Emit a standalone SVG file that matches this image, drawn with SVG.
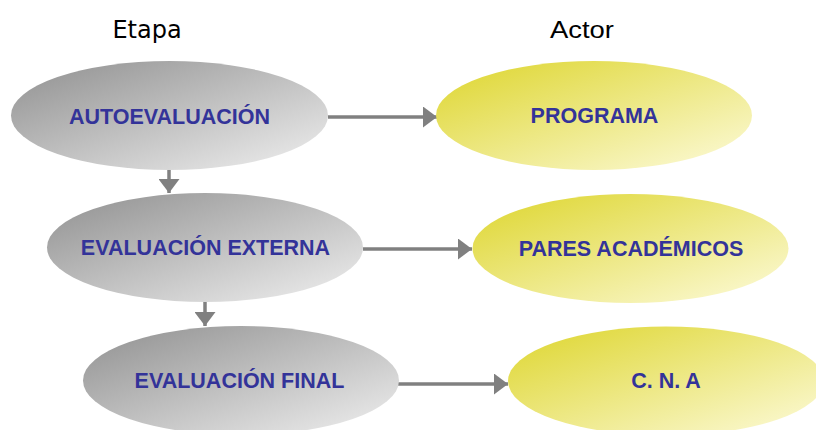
<svg xmlns="http://www.w3.org/2000/svg" width="816" height="430" viewBox="0 0 816 430">
  <style>
    .hdr { font-size: 24px; fill: #000000; }
    .lbl { font-family: "Liberation Sans", Arial, sans-serif; font-weight: bold; font-size: 21.5px; fill: #333399; text-anchor: middle; }
    .etapa { fill: url(#gGray); }
    .actor { fill: url(#gYellow); }
    .conn { stroke: #808080; stroke-width: 3.5; fill: none; marker-end: url(#arrow); }
  </style>
  <defs>
    <linearGradient id="gGray" x1="0" y1="0" x2="1" y2="1">
      <stop offset="0" stop-color="#8f8f8f"/>
      <stop offset="1" stop-color="#f0f0f0"/>
    </linearGradient>
    <linearGradient id="gYellow" x1="0" y1="0" x2="1" y2="1">
      <stop offset="0" stop-color="#ddd52c"/>
      <stop offset="1" stop-color="#fdfbdc"/>
    </linearGradient>
    <marker id="arrow" markerUnits="userSpaceOnUse" markerWidth="14" markerHeight="21" refX="14" refY="10.5" orient="auto">
      <path d="M0,0 L14,10.5 L0,21 Z" fill="#808080"/>
    </marker>
  </defs>
  <rect width="816" height="430" fill="#ffffff"/>

  <text class="hdr" x="147" y="38" text-anchor="middle" font-family="'DejaVu Sans', Verdana, sans-serif">Etapa</text>
  <text class="hdr" x="582" y="38" text-anchor="middle" font-family="'Liberation Sans', Arial, sans-serif" textLength="64" lengthAdjust="spacingAndGlyphs">Actor</text>

  <g id="connectors">
    <line class="conn" x1="328" y1="117" x2="437" y2="117"/>
    <line class="conn" x1="169" y1="170" x2="169" y2="193"/>
    <line class="conn" x1="363" y1="249" x2="472" y2="249"/>
    <line class="conn" x1="205" y1="302" x2="205" y2="326"/>
    <line class="conn" x1="398" y1="384" x2="508" y2="384"/>
  </g>

  <g id="autoevaluacion">
    <ellipse class="etapa" cx="169.5" cy="115.5" rx="158.5" ry="54.5"/>
    <text class="lbl" x="169.5" y="124">AUTOEVALUACIÓN</text>
  </g>
  <g id="programa">
    <ellipse class="actor" cx="594" cy="115.5" rx="158" ry="54.5"/>
    <text class="lbl" x="594.5" y="123">PROGRAMA</text>
  </g>
  <g id="evaluacion-externa">
    <ellipse class="etapa" cx="205" cy="247.5" rx="158" ry="54.5"/>
    <text class="lbl" x="205.5" y="255">EVALUACIÓN EXTERNA</text>
  </g>
  <g id="pares-academicos">
    <ellipse class="actor" cx="630.5" cy="248.5" rx="158" ry="54.5"/>
    <text class="lbl" x="631" y="256">PARES ACADÉMICOS</text>
  </g>
  <g id="evaluacion-final">
    <ellipse class="etapa" cx="241" cy="380.5" rx="158" ry="54.5"/>
    <text class="lbl" x="239.5" y="388">EVALUACIÓN FINAL</text>
  </g>
  <g id="cna">
    <ellipse class="actor" cx="666" cy="381" rx="158" ry="54.5"/>
    <text class="lbl" x="666" y="388">C. N. A</text>
  </g>
</svg>
